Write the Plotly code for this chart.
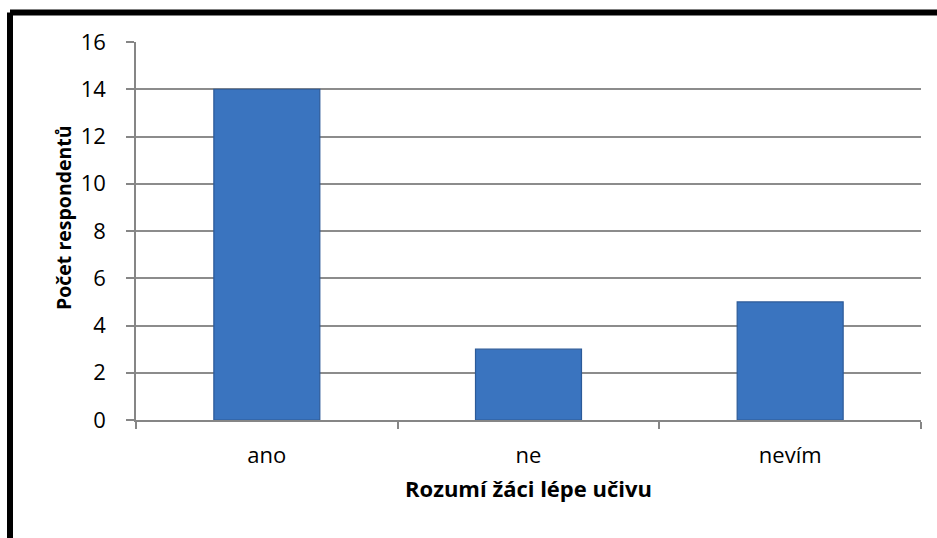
import plotly.graph_objects as go

categories = ["ano", "ne", "nevím"]
values = [14, 3, 5]
y_ticks = [0, 2, 4, 6, 8, 10, 12, 14, 16]
x_title = "Rozumí žáci lépe učivu"
y_title = "Počet respondentů"

W, H = 937, 538
ml, mr, mt, mb = 136, 16, 42, 118
pw, ph = W - ml - mr, H - mt - mb

fig = go.Figure()
fig.add_trace(go.Bar(
    x=categories, y=values, width=0.405,
    marker=dict(color="#3A74BF", line=dict(color="#2C5A98", width=1.2)),
    hoverinfo="x+y",
))

font_family = "'Open Sans', Lato, sans-serif"

fig.update_layout(
    width=W, height=H,
    margin=dict(l=ml, r=mr, t=mt, b=mb, pad=0),
    paper_bgcolor="white", plot_bgcolor="white",
    showlegend=False,
    font=dict(family=font_family, color="black", size=22),
)

fig.update_xaxes(
    type="category",
    showline=True, linecolor="#868686", linewidth=1.5,
    ticks="outside", tickson="boundaries", ticklen=7, tickwidth=1.5, tickcolor="#868686",
    showgrid=False,
    tickfont=dict(size=22), ticklabelstandoff=15,
    title=dict(text="<b>" + x_title + "</b>", font=dict(size=22), standoff=13),
)
fig.update_yaxes(
    range=[0, 16], tickvals=y_ticks,
    showline=True, linecolor="#868686", linewidth=1.5,
    ticks="outside", ticklen=8, tickwidth=1.5, tickcolor="#868686",
    showgrid=True, gridcolor="#8C8C8C", gridwidth=1.5,
    zeroline=False,
    tickfont=dict(size=22), ticklabelstandoff=16,
)

# y-axis title placed as annotation (sits slightly above the plot's vertical centre)
fig.add_annotation(
    text="<b>" + y_title + "</b>", textangle=-90,
    xref="paper", yref="paper",
    x=(63 - ml) / pw, y=(H - mb - 218) / ph,
    xanchor="center", yanchor="middle", showarrow=False,
    font=dict(size=19.5, color="black", family=font_family),
)

# outer black frame (partially cropped at right/bottom in the reference)
bx = (10 - ml) / pw
by = (H - mb - 12.5) / ph
fig.add_shape(type="line", xref="paper", yref="paper", x0=bx, x1=1.2, y0=by, y1=by,
              line=dict(color="black", width=6))
fig.add_shape(type="line", xref="paper", yref="paper", x0=bx, x1=bx, y0=by, y1=-0.4,
              line=dict(color="black", width=6))

div = fig.to_html(full_html=False, include_plotlyjs=True,
                  config={"displayModeBar": False})
html = ("<!DOCTYPE html><html><head><meta charset='utf-8'></head>"
        "<body style='margin:0;padding:0;overflow:hidden'>" + div + "</body></html>")
with open("out.html", "w", encoding="utf-8") as f:
    f.write(html)
